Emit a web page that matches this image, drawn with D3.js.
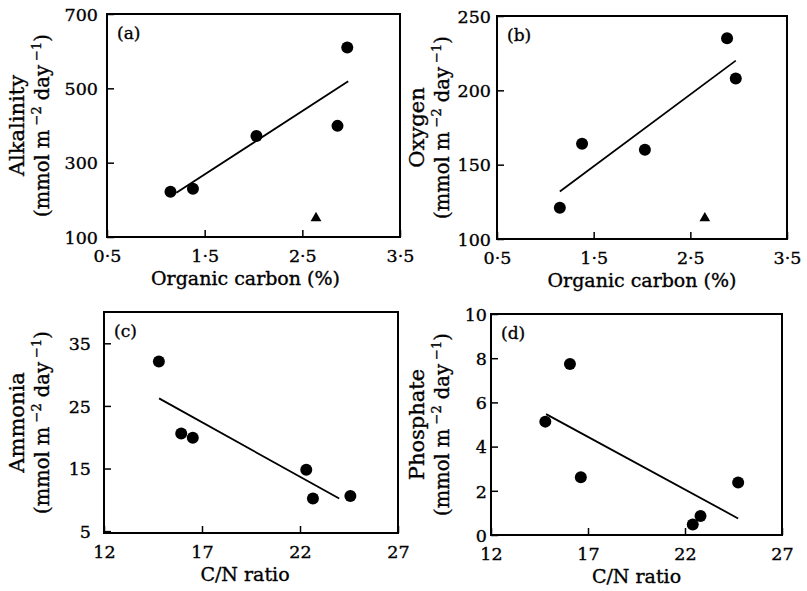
<!DOCTYPE html>
<html>
<head>
<meta charset="utf-8">
<script src="https://cdn.jsdelivr.net/npm/d3@7"></script>
<style>
    body { margin: 0; background: #fff; }
    svg { display: block; }
    text { font-family: "DejaVu Serif", "Liberation Serif", serif; fill: #000; stroke: #000; stroke-width: 0.35px; }
</style>
</head>
<body>
<div id="container"></div>
<script>
"use strict";

const WIDTH = 807;
const HEIGHT = 591;

// panel (a) alkalinity vs organic carbon
const ALK_CARBON = [1.15, 1.38, 2.03, 2.86, 2.96];
const ALK_VALUES = [222, 230, 372, 399, 610];
const ALK_TRIANGLE = [[2.64, 151]];
const ALK_FIT = [[1.21, 219], [2.97, 519]];

// panel (b) oxygen vs organic carbon
const OXY_CARBON = [1.15, 1.38, 2.03, 2.88, 2.97];
const OXY_VALUES = [121, 164, 160, 235, 208];
const OXY_TRIANGLE = [[2.65, 114]];
const OXY_FIT = [[1.15, 132], [2.97, 220]];

// panel (c) ammonia vs C/N
const AMM_CN = [14.8, 15.94, 16.53, 22.32, 22.66, 24.57];
const AMM_VALUES = [32.1, 20.6, 19.9, 14.8, 10.2, 10.6];
const AMM_FIT = [[14.81, 26.2], [24.0, 10.2]];

// panel (d) phosphate vs C/N
const PHO_CN = [14.8, 16.07, 16.63, 22.4, 22.8, 24.74];
const PHO_VALUES = [5.13, 7.74, 2.61, 0.48, 0.86, 2.38];
const PHO_FIT = [[14.84, 5.47], [24.74, 0.75]];

const CARBON_TICKS = [0.5, 1.5, 2.5, 3.5];
const CN_TICKS = [12, 17, 22, 27];
const ALK_TICKS = [100, 300, 500, 700];
const OXY_TICKS = [100, 150, 200, 250];
const AMM_TICKS = [5, 15, 25, 35];
const PHO_TICKS = [0, 2, 4, 6, 8, 10];

const PANELS = [
    { tag: "(a)", box: [107, 14, 400, 237], xDomain: [0.5, 3.5], yDomain: [100, 700],
      xTicks: CARBON_TICKS, yTicks: ALK_TICKS, xs: ALK_CARBON, ys: ALK_VALUES,
      tri: ALK_TRIANGLE, fit: ALK_FIT, name: "Alkalinity", xTitle: "Organic carbon (%)",
      decimals: true, yPad: 9, titleShift: -8 },
    { tag: "(b)", box: [497, 16, 787, 239], xDomain: [0.5, 3.5], yDomain: [100, 250],
      xTicks: CARBON_TICKS, yTicks: OXY_TICKS, xs: OXY_CARBON, ys: OXY_VALUES,
      tri: OXY_TRIANGLE, fit: OXY_FIT, name: "Oxygen", xTitle: "Organic carbon (%)",
      decimals: true, yPad: 6, titleShift: 0 },
    { tag: "(c)", box: [104, 312, 398, 533], xDomain: [12, 27], yDomain: [4.7, 40],
      xTicks: CN_TICKS, yTicks: AMM_TICKS, xs: AMM_CN, ys: AMM_VALUES,
      tri: [], fit: AMM_FIT, name: "Ammonia", xTitle: "C/N ratio",
      decimals: false, yPad: 13, titleShift: -6 },
    { tag: "(d)", box: [491, 314, 782, 535], xDomain: [12, 27], yDomain: [0, 10],
      xTicks: CN_TICKS, yTicks: PHO_TICKS, xs: PHO_CN, ys: PHO_VALUES,
      tri: [], fit: PHO_FIT, name: "Phosphate", xTitle: "C/N ratio",
      decimals: false, yPad: 4, titleShift: 0 }
];

const SVG = d3.select("#container").append("svg")
    .attr("width", WIDTH)
    .attr("height", HEIGHT);

PANELS.forEach(drawPanel);

function drawPanel(p) {
    const [x0, y0, x1, y1] = p.box;

    const xScale = d3.scaleLinear().domain(p.xDomain).range([x0, x1]);
    const yScale = d3.scaleLinear().domain(p.yDomain).range([y1, y0]);

    const fmt = p.decimals ? (d => d3.format(".1f")(d).replace(".", "·")) : d3.format("d");

    const xaxis = d3.axisBottom(xScale)
        .tickValues(p.xTicks)
        .tickFormat(fmt)
        .tickSizeInner(-7)
        .tickSizeOuter(0);

    const yaxis = d3.axisLeft(yScale)
        .tickValues(p.yTicks)
        .tickFormat(d3.format("d"))
        .tickSizeInner(-7)
        .tickSizeOuter(0);

    const gx = SVG.append("g")
        .attr("transform", `translate(0, ${y1})`)
        .call(xaxis);
    gx.select(".domain").remove();
    gx.selectAll("line").attr("stroke", "#000").attr("stroke-width", 1.5);
    gx.selectAll("text")
        .attr("y", 25)
        .attr("dy", 0)
        .attr("font-size", 17.5)
        .attr("font-family", null);

    const gy = SVG.append("g")
        .attr("transform", `translate(${x0}, 0)`)
        .call(yaxis);
    gy.select(".domain").remove();
    gy.selectAll("line").attr("stroke", "#000").attr("stroke-width", 1.5);
    gy.selectAll("text")
        .attr("x", -p.yPad)
        .attr("dy", "0.36em")
        .attr("font-size", 17.5)
        .attr("font-family", null);

    // frame
    SVG.append("rect")
        .attr("x", x0)
        .attr("y", y0)
        .attr("width", x1 - x0)
        .attr("height", y1 - y0)
        .attr("fill", "none")
        .attr("stroke", "#000")
        .attr("stroke-width", 2);

    SVG.append("text")
        .attr("x", x0 + 10)
        .attr("y", y0 + 25)
        .attr("font-size", 17)
        .text(p.tag);

    const line = d3.line()
        .x(d => xScale(d[0]))
        .y(d => yScale(d[1]));

    SVG.append("path")
        .attr("d", line(p.fit))
        .attr("fill", "none")
        .attr("stroke", "#000")
        .attr("stroke-width", 1.8);

    SVG.append("g").selectAll("circle")
        .data(d3.zip(p.xs, p.ys))
        .join("circle")
        .attr("cx", d => xScale(d[0]))
        .attr("cy", d => yScale(d[1]))
        .attr("r", 6)
        .attr("fill", "#000");

    SVG.append("g").selectAll("path")
        .data(p.tri)
        .join("path")
        .attr("transform", d => `translate(${xScale(d[0])}, ${yScale(d[1])})`)
        .attr("d", d3.symbol(d3.symbolTriangle, 50))
        .attr("fill", "#000");

    // x title
    SVG.append("text")
        .attr("x", (x0 + x1) / 2 + p.titleShift)
        .attr("y", y1 + 48)
        .attr("text-anchor", "middle")
        .attr("font-size", 19)
        .text(p.xTitle);

    // y title, two lines
    const cy = (y0 + y1) / 2;
    const lx = x0 < 300 ? 0 : 400;

    SVG.append("text")
        .attr("transform", `translate(${lx + 24}, ${cy}) rotate(-90)`)
        .attr("text-anchor", "middle")
        .attr("font-size", 21)
        .text(p.name);

    const unit = SVG.append("text")
        .attr("transform", `translate(${lx + 49}, ${cy}) rotate(-90)`)
        .attr("text-anchor", "middle")
        .attr("font-size", 19.5);
    unit.append("tspan").text("(mmol m");
    unit.append("tspan").attr("font-size", 13).attr("dy", -8).text(" −2");
    unit.append("tspan").attr("dy", 8).text(" day");
    unit.append("tspan").attr("font-size", 13).attr("dy", -8).text(" −1");
    unit.append("tspan").attr("dy", 8).text(")");
}
</script>
</body>
</html>
